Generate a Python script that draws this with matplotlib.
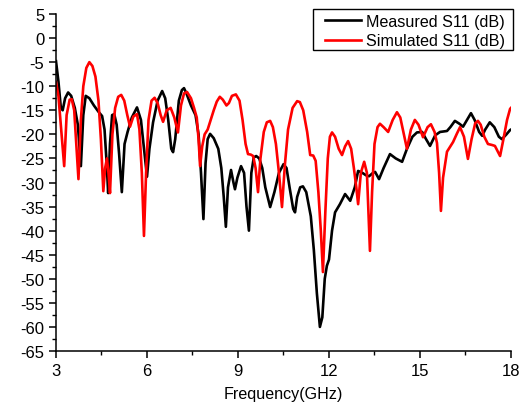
import matplotlib
matplotlib.use("Agg")
import matplotlib.pyplot as plt
from matplotlib.ticker import MultipleLocator
from matplotlib.patches import Rectangle

plt.rcParams['font.family'] = ['Liberation Sans', 'DejaVu Sans']
plt.rcParams['axes.unicode_minus'] = False

meas_f = [3.0, 3.08, 3.16, 3.22, 3.3, 3.4, 3.5, 3.62, 3.72, 3.82, 3.9, 3.98, 4.1, 4.25, 4.4,
          4.52, 4.6, 4.67, 4.72, 4.78, 4.85, 4.92, 5.0, 5.08, 5.17, 5.26, 5.36, 5.5, 5.67,
          5.8, 5.92, 6.0, 6.08, 6.2, 6.35, 6.5, 6.6, 6.7, 6.8, 6.86, 6.93, 7.05, 7.15, 7.22,
          7.3, 7.45, 7.6, 7.7, 7.78, 7.86, 7.93, 8.0, 8.08, 8.2, 8.35, 8.45, 8.53, 8.6, 8.67,
          8.77, 8.85, 8.9, 8.98, 9.1, 9.2, 9.28, 9.36, 9.44, 9.52, 9.6, 9.7, 9.8, 9.9, 10.06,
          10.2, 10.35, 10.5, 10.6, 10.7, 10.82, 10.88, 10.95, 11.05, 11.14, 11.25, 11.4, 11.5,
          11.6, 11.7, 11.78, 11.86, 11.93, 12.0, 12.1, 12.2, 12.36, 12.53, 12.7, 12.85, 12.96,
          13.1, 13.22, 13.32, 13.45, 13.52, 13.65, 13.8, 14.01, 14.2, 14.41, 14.57, 14.75,
          14.9, 15.07, 15.2, 15.33, 15.5, 15.66, 15.89, 16.0, 16.15, 16.3, 16.42, 16.55,
          16.68, 16.8, 16.95, 17.05, 17.15, 17.3, 17.45, 17.6, 17.7, 17.85, 17.97, 18.0]
meas_s11 = [-4.8, -9, -14.5, -15.0, -12.5, -11.3, -12, -14.5, -18, -26.6, -16, -12, -12.5, -14, -15.3,
            -16.2, -19, -26, -32.2, -22, -16, -15.8, -18, -24, -32, -22, -19.5, -16.5, -14.4,
            -17, -24, -28.8, -23, -17.5, -13, -11, -12.5, -17, -23, -23.7, -21, -13, -10.8, -10.4,
            -11.5, -14, -16, -20, -28, -37.6, -26, -21, -19.9, -20.8, -23, -27, -33, -39.2, -31,
            -27.4, -30, -31.4, -29, -26.6, -28, -35, -40, -28, -24.8, -24.5, -25, -27, -31, -35.1,
            -32, -28, -26.2, -27, -31, -35.5, -36.2, -33, -31, -30.8, -32, -37, -44,
            -53, -60, -58, -50, -47.3, -46, -40, -36.2, -34.5, -32.4, -33.8, -31, -27.6,
            -28, -28.5, -28.7, -28, -27.8, -29.3, -27, -24.1, -25, -25.7, -23, -20.5,
            -19.6, -19.5, -21, -22.4, -20.2, -19.5, -19.3, -18.5, -17.2, -17.8, -18.4, -17,
            -15.6, -17, -19.5, -20.3, -19, -17.5, -18.5, -20.5, -21, -20, -19.1, -19]

sim_f = [3.0, 3.08, 3.17, 3.27, 3.35, 3.45, 3.52, 3.6, 3.67, 3.74, 3.82, 3.9, 4.0, 4.1, 4.2, 4.3,
         4.4, 4.48, 4.56, 4.62, 4.68, 4.73, 4.78, 4.86, 4.95, 5.05, 5.15, 5.25, 5.35, 5.44,
         5.55, 5.67, 5.75, 5.83, 5.9, 5.97, 6.05, 6.15, 6.25, 6.35, 6.45, 6.53, 6.65, 6.78,
         6.9, 7.02, 7.12, 7.22, 7.32, 7.45, 7.55, 7.64, 7.7, 7.75, 7.82, 7.9, 8.0, 8.1, 8.2,
         8.3, 8.4, 8.5, 8.62, 8.7, 8.8, 8.93, 9.05, 9.15, 9.25, 9.33, 9.42, 9.5, 9.58, 9.66,
         9.74, 9.85, 9.95, 10.06, 10.15, 10.25, 10.35, 10.45, 10.55, 10.65, 10.8, 10.95, 11.04,
         11.15, 11.28, 11.38, 11.48, 11.56, 11.65, 11.73, 11.8, 11.88, 11.96, 12.03, 12.1,
         12.2, 12.32, 12.43, 12.53, 12.63, 12.73, 12.82, 12.9, 12.96, 13.05, 13.16, 13.25,
         13.3, 13.35, 13.42, 13.5, 13.6, 13.68, 13.8, 13.95, 14.1, 14.24, 14.35, 14.45,
         14.57, 14.7, 14.83, 14.95, 15.1, 15.25, 15.36, 15.48, 15.56, 15.63, 15.69, 15.76,
         15.89, 16.09, 16.22, 16.32, 16.45, 16.58, 16.7, 16.82, 16.91, 17.0, 17.12, 17.24,
         17.37, 17.47, 17.56, 17.64, 17.75, 17.87, 17.97, 18.0]
sim_s11 = [-9.1, -12, -19, -26.6, -16, -12.8, -12.7, -15, -22, -29.3, -17, -10, -6.2, -5, -5.8, -8,
           -13, -21, -31.8, -27, -25, -28, -32.2, -20, -14.5, -12.2, -11.8, -13, -16, -18.4,
           -16.3, -15.8, -19, -28, -41.1, -28, -17, -13, -12.4, -13.5, -16, -17.4, -15, -14.5,
           -16.5, -19.6, -14, -11.5, -11.2, -12.5, -14.5, -16.5, -21, -26.6, -22.5, -20, -19, -17, -15,
           -13.2, -12.2, -12.8, -14, -13.5, -12, -11.7, -13, -17, -22, -24.1, -24.2, -24.5, -27, -32,
           -25, -19.5, -17.5, -17.2, -18.5, -22, -28, -35.1, -26, -19, -14.5, -13.1, -13.3,
           -15, -19.5, -24.3, -24.4, -25.5, -32, -40, -48.6, -36, -25, -20.5, -19.6,
           -20.5, -23, -24.3, -22.5, -21.4, -23, -27, -31, -34.5, -28, -25.7, -28,
           -36, -44.2, -32, -22, -18.5, -17.8, -18.5, -19.5, -17, -15.4, -16.5, -19.5,
           -23, -19, -17, -18, -20.6, -18.5, -17.9, -19.5, -21.8, -28, -35.9, -29,
           -23.6, -21.6, -19.8, -18.5, -20.5, -25.1, -21, -17.7, -17.2, -18, -20.5, -22,
           -22.2, -22.4, -23.5, -24.5, -21, -17, -14.7, -14.5]

x_ticks = [3, 6, 9, 12, 15, 18]
y_ticks = list(range(-65, 6, 5))

W, H = 531, 414
fig = plt.figure(figsize=(W / 100, H / 100), dpi=100)
ax = fig.add_axes([56 / W, 1 - 352 / H, 455 / W, 337 / H])

ax.plot(meas_f, meas_s11, color='black', lw=1.9, label='Measured S11 (dB)', solid_joinstyle='round')
ax.plot(sim_f, sim_s11, color='#ff0000', lw=1.9, label='Simulated S11 (dB)', solid_joinstyle='round')

ax.set_xlim(3, 18)
ax.set_ylim(-65, 5)
ax.set_xticks(x_ticks)
ax.set_yticks(y_ticks)
ax.xaxis.set_minor_locator(MultipleLocator(1.5))
ax.yaxis.set_minor_locator(MultipleLocator(2.5))
for s in ['top', 'right']:
    ax.spines[s].set_visible(False)
for s in ['left', 'bottom']:
    ax.spines[s].set_linewidth(1.1)
ax.tick_params(which='major', direction='out', length=5, width=1.1, labelsize=12, pad=3.5)
ax.tick_params(which='minor', direction='out', length=3, width=1.0)
ax.set_xlabel('Frequency(GHz)', fontsize=11.6, labelpad=6)

leg = fig.legend(loc='upper left', bbox_to_anchor=(325 / W, 1 - 14.5 / H),
                 bbox_transform=fig.transFigure, borderaxespad=0, borderpad=0,
                 fontsize=11.6, frameon=False,
                 handlelength=2.25, handletextpad=0.3, labelspacing=0.3)
fig.patches.append(Rectangle((313 / W, 1 - 51 / H), 200 / W, 41 / H,
                             transform=fig.transFigure, fill=False,
                             edgecolor='black', linewidth=1.0, zorder=5))

fig.savefig('out.png', dpi=100)
